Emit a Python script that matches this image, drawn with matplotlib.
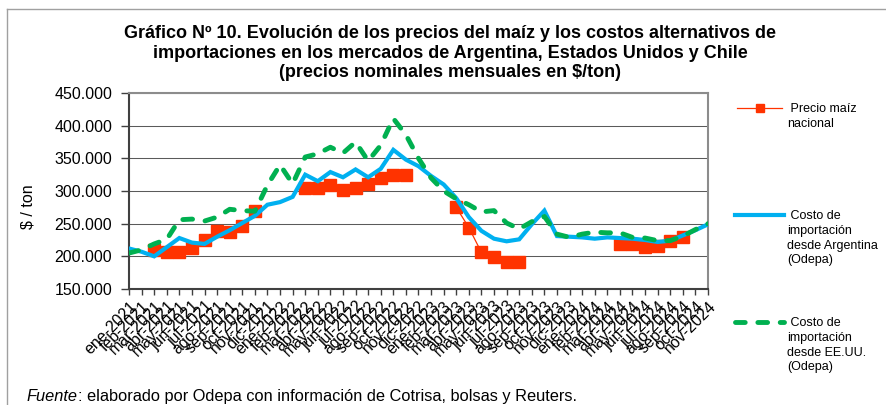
import matplotlib
matplotlib.use('Agg')
import matplotlib.pyplot as plt
from matplotlib.lines import Line2D
from matplotlib.ticker import FuncFormatter, MultipleLocator
import numpy as np

plt.rcParams['font.family'] = ['Liberation Sans', 'DejaVu Sans']

meses = ['ene', 'feb', 'mar', 'abr', 'may', 'jun', 'jul', 'ago', 'sep', 'oct', 'nov', 'dic']
anios = [2021, 2022, 2023, 2024]
etiquetas = [f'{m}-{a}' for a in anios for m in meses][:47]

precio_nacional = [None, None, 210000, 206000, 207000, 212000, 225000, 239000, 237000, 246000,
                   270000, None, None, None, 305000, 305000, 309000, 302000, 305000, 310000,
                   320000, 324000, 325000, None, None, None, 275000, 244000, 206000, 199000,
                   191000, 191000, None, None, None, None, None, None, None, 219000,
                   219000, 215000, 216000, 224000, 229000, None, None]

costo_argentina = [212000, 207000, 200000, 214000, 228000, 221000, 219000, 230000, 240000, 251000,
                   262000, 279000, 283000, 291000, 325000, 315000, 329000, 321000, 333000, 321000,
                   334000, 363000, 348000, 338000, 323000, 310000, 289000, 260000, 239000, 227000,
                   223000, 226000, 249000, 270000, 231000, 230000, 229000, 227000, 229000, 228000,
                   227000, 225000, 222000, 224000, 232000, 240000, 249000]

costo_eeuu = [205000, 210000, 219000, 226000, 256000, 257000, 254000, 260000, 272000, 270000,
              269000, 309000, 340000, 311000, 352000, 357000, 367000, 358000, 375000, 346000,
              370000, 411000, 386000, 350000, 320000, 300000, 288000, 279000, 268000, 270000,
              251000, 242000, 253000, 261000, 234000, 229000, 234000, 237000, 236000, 236000,
              229000, 228000, 224000, 224000, 231000, 241000, 250000]

serie_nombres = [["Precio maíz", "nacional"],
                 ["Costo de", "importación", "desde Argentina", "(Odepa)"],
                 ["Costo de", "importación", "desde EE.UU.", "(Odepa)"]]

titulo = ("Gráfico Nº 10. Evolución de los precios del maíz y los costos alternativos de\n"
          "importaciones en los mercados de Argentina, Estados Unidos y Chile\n"
          "(precios nominales mensuales en $/ton)")
fuente_it = "Fuente"
fuente_rest = ": elaborado por Odepa con información de Cotrisa, bolsas y Reuters."

ROJO = '#FF3300'
AZUL = '#00B0F0'
VERDE = '#00B050'

W, H = 887, 405
fig = plt.figure(figsize=(W / 100, H / 100), dpi=100)

def fx(px):
    return px / W

def fy(py):
    return 1 - py / H

ax = fig.add_axes([fx(129), fy(289), fx(708 - 129), (289 - 93) / H])

x = np.arange(len(etiquetas))
nac = np.array([np.nan if v is None else v for v in precio_nacional], dtype=float)

ax.plot(x, nac, color=ROJO, lw=0.9, marker='s', markersize=8,
        markerfacecolor=ROJO, markeredgecolor=ROJO, zorder=3)
ax.plot(x, costo_argentina, color=AZUL, lw=3.0, solid_joinstyle='miter', zorder=4)
ax.plot(x, costo_eeuu, color=VERDE, lw=3.5, dashes=(2.0, 2.6),
        dash_capstyle='round', zorder=5)

ax.set_xlim(0, len(etiquetas) - 1)
ax.set_ylim(150000, 450000)
ax.yaxis.set_major_locator(MultipleLocator(50000))
ax.yaxis.set_major_formatter(FuncFormatter(lambda v, p: f"{int(v):,}".replace(",", ".")))
ax.grid(axis='y', color='#5a5a5a', lw=0.75)
ax.set_axisbelow(True)

ax.set_xticks(x)
ax.set_xticklabels(etiquetas, rotation=45, ha='right', rotation_mode='anchor', fontsize=11.5)
ax.tick_params(axis='x', direction='out', length=4, width=1, color='#404040', pad=3)
ax.tick_params(axis='y', direction='out', length=6, width=1, color='#404040', labelsize=11.5, pad=6)

for s in ['left', 'bottom']:
    ax.spines[s].set_color('#404040')
    ax.spines[s].set_linewidth(1.5)
for s in ['top', 'right']:
    ax.spines[s].set_color('#8c8c8c')
    ax.spines[s].set_linewidth(1.5)

fig.text(fx(28), fy(207), "$ / ton", rotation=90, ha='center', va='center', fontsize=11.5)

fig.text(fx(450), fy(53), titulo, ha='center', va='center', fontsize=13,
         fontweight='bold', linespacing=1.16)

# legend (manual)
leg_y = [108, 215, 322]
fig.add_artist(Line2D([fx(737), fx(782)], [fy(leg_y[0])] * 2, color=ROJO, lw=0.9,
                      transform=fig.transFigure))
fig.add_artist(Line2D([fx(760)], [fy(leg_y[0])], color=ROJO, marker='s', markersize=6,
                      markeredgecolor=ROJO, transform=fig.transFigure))
fig.add_artist(Line2D([fx(735), fx(784)], [fy(leg_y[1])] * 2, color=AZUL, lw=3.0,
                      transform=fig.transFigure))
fig.add_artist(Line2D([fx(735), fx(784)], [fy(leg_y[2])] * 2, color=VERDE, lw=3.5,
                      dashes=(2.0, 2.6), dash_capstyle='round', transform=fig.transFigure))

for ly, nombre in zip(leg_y, serie_nombres):
    for k, linea in enumerate(nombre):
        txt = (" " + linea) if k == 0 else linea
        fig.text(fx(787.5), fy(ly + 1 + k * 14.8), txt, ha='left', va='center', fontsize=9)

# frame lines
fig.add_artist(Line2D([fx(7), 1.0], [fy(9), fy(9)], color='#a0a0a0', lw=1.0,
                      transform=fig.transFigure))
fig.add_artist(Line2D([fx(7), fx(7)], [fy(9), 0.0], color='#a0a0a0', lw=1.0,
                      transform=fig.transFigure))

# footer
t1 = fig.text(fx(27), fy(404), fuente_it, ha='left', va='bottom', fontsize=11.8, style='italic')
fig.canvas.draw()
bb = t1.get_window_extent()
fig.text(bb.x1 / W, fy(404), fuente_rest, ha='left', va='bottom', fontsize=11.8)

fig.savefig('out.png', dpi=100)
